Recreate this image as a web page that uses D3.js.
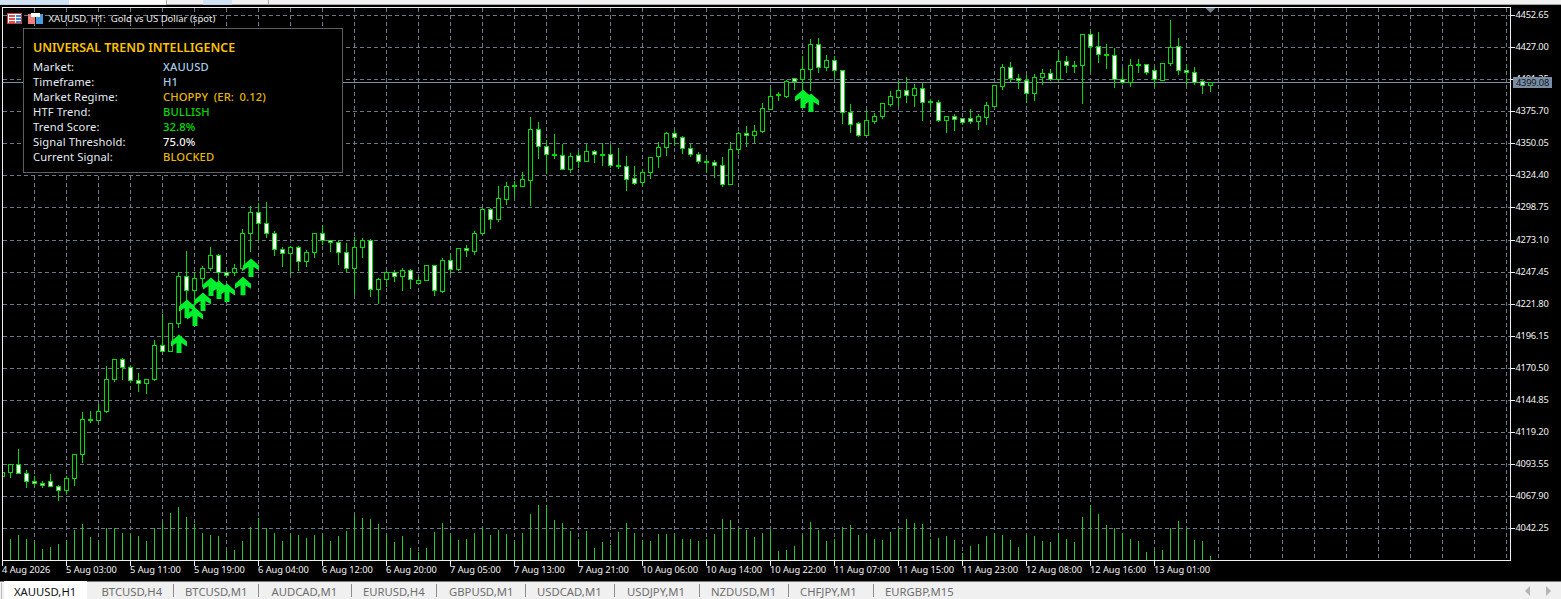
<!DOCTYPE html>
<html><head><meta charset="utf-8">
<script src="https://cdn.jsdelivr.net/npm/d3@7/dist/d3.min.js"></script>
<style>
html,body{margin:0;padding:0;background:#000;overflow:hidden}
svg{display:block}
text{font-family:"Noto Sans",sans-serif}
</style></head><body>
<svg id="c" width="1561" height="599"></svg>
<script>
const opens=[4083.6,4086.8,4093.5,4086.0,4079.9,4078.3,4079.9,4075.9,4072.4,4082.3,4101.2,4129.2,4128.5,4135.7,4161.4,4177.7,4171.2,4160.8,4158.2,4161.4,4188.9,4183.8,
4206.0,4243.9,4232.4,4242.3,4250.0,4260.7,4246.8,4246.8,4250.0,4278.1,4295.2,4286.4,4278.4,4265.5,4262.1,4267.1,4255.7,4262.9,4278.4,4272.8,4271.1,4263.1,4250.0,4266.9,4272.8,4233.2,4241.2,4247.1,4243.6,4248.7,4238.0,4240.4,4252.7,4232.1,4256.7,4249.7,4266.3,4264.2,4278.1,
4297.4,4289.6,4305.9,4315.8,4316.3,4321.1,4361.5,4347.9,4341.2,4340.6,4329.2,4340.6,4335.6,4343.9,4341.2,4341.2,4332.4,4331.8,4322.2,4319.5,4326.8,4339.6,4346.8,4358.3,4355.1,4346.3,4341.4,4335.6,4335.0,4332.6,4317.9,4345.2,4358.3,4356.4,4359.6,
4377.9,4388.8,4388.1,4402.2,4401.7,4409.2,4429.5,4410.8,4416.7,4408.6,4375.0,4366.2,4357.1,4368.3,4372.3,4381.9,4387.5,4392.6,4389.1,4394.2,4383.8,4383.0,4369.1,4371.8,4370.2,4370.2,4368.3,4371.5,4380.3,4396.3,4411.0,4402.2,4400.6,4390.7,4402.8,4406.2,4401.2,4415.8,4412.9,4412.4,4437.5,4427.9,4421.2,4420.6,4401.4,4399.0,4413.2,4413.4,4408.6,4401.1,4414.0,4427.9,4408.6,4407.0,4399.8,4397.1];
const highs=[4087.3,4093.5,4106.6,4089.5,4084.9,4080.9,4086.3,4077.7,4084.7,4101.5,4136.0,4137.0,4142.4,4172.9,4178.7,4179.3,4173.1,4167.5,4161.6,4193.2,4214.5,4207.3,
4248.2,4265.0,4247.6,4252.7,4268.2,4262.3,4249.0,4254.3,4282.6,4301.1,4303.5,4304.3,4281.0,4267.7,4268.7,4268.7,4265.5,4279.4,4285.3,4273.6,4273.6,4271.4,4275.7,4275.2,4274.4,4243.1,4249.0,4249.5,4251.3,4250.5,4243.6,4253.7,4252.7,4259.3,4262.3,4266.3,4269.8,4281.0,4299.2,
4299.0,4316.9,4320.1,4320.9,4328.1,4372.2,4367.9,4353.5,4358.5,4350.3,4343.3,4344.4,4350.3,4345.5,4351.1,4349.7,4347.3,4340.6,4332.9,4330.2,4340.1,4351.9,4359.9,4362.3,4356.7,4350.3,4344.1,4339.3,4337.4,4340.1,4352.1,4359.9,4365.0,4365.8,4383.4,
4395.5,4392.1,4401.4,4402.2,4420.4,4434.6,4435.4,4421.7,4420.7,4408.6,4382.5,4368.0,4377.4,4375.5,4382.2,4392.9,4400.9,4404.1,4398.5,4399.0,4386.2,4385.4,4372.3,4374.2,4371.0,4378.4,4374.2,4383.8,4397.7,4414.2,4416.1,4406.2,4405.7,4406.2,4410.5,4410.5,4424.9,4420.6,4416.9,4438.3,4441.0,4439.9,4430.3,4426.8,4411.0,4418.5,4418.2,4414.2,4412.1,4414.2,4449.8,4435.3,4414.2,4412.1,4401.4,4398.7];
const lows=[4083.1,4082.8,4086.0,4074.8,4076.1,4074.8,4075.6,4064.9,4070.0,4076.9,4095.4,4126.9,4128.5,4134.9,4159.8,4161.9,4159.0,4152.3,4150.1,4161.1,4183.8,4183.8,
4203.5,4222.3,4220.9,4235.6,4249.0,4238.3,4243.6,4245.0,4249.0,4264.2,4273.0,4274.9,4260.5,4252.2,4246.3,4249.0,4252.2,4259.1,4269.8,4264.2,4253.8,4248.2,4229.7,4259.1,4228.1,4222.3,4236.1,4239.9,4232.9,4234.5,4238.0,4240.4,4228.9,4231.3,4246.0,4248.9,4260.2,4261.8,4277.8,
4282.4,4288.0,4301.6,4307.2,4316.1,4300.8,4338.5,4326.5,4338.5,4329.2,4327.3,4331.3,4335.6,4335.3,4332.9,4331.3,4330.5,4312.9,4317.7,4316.9,4322.5,4331.3,4340.9,4348.7,4342.5,4340.1,4334.2,4327.3,4323.3,4316.1,4317.9,4342.0,4348.1,4351.3,4359.3,
4377.9,4384.9,4387.5,4393.4,4392.9,4392.9,4407.3,4408.9,4402.2,4366.4,4359.2,4356.0,4356.5,4366.4,4370.4,4380.0,4380.6,4383.3,4380.0,4368.8,4376.0,4368.0,4359.5,4360.8,4365.6,4366.2,4361.6,4365.6,4380.0,4393.7,4400.1,4394.5,4383.3,4384.9,4397.7,4400.9,4400.9,4406.8,4407.3,4382.7,4408.1,4415.3,4410.5,4395.3,4398.2,4396.1,4407.3,4405.9,4396.1,4401.1,4412.4,4405.7,4397.9,4397.7,4390.5,4391.8];
const closes=[4086.8,4093.5,4086.0,4079.6,4078.0,4076.4,4075.6,4072.4,4082.3,4101.5,4129.6,4128.7,4136.0,4161.6,4177.7,4171.0,4160.6,4158.2,4161.6,4188.9,4183.8,4206.5,
4243.9,4232.4,4242.3,4250.3,4260.7,4246.8,4244.4,4250.3,4278.4,4295.2,4286.4,4278.1,4265.3,4262.1,4267.1,4255.7,4263.1,4278.4,4273.0,4270.9,4263.1,4250.0,4267.1,4272.8,4233.2,4241.5,4247.1,4243.6,4248.7,4241.2,4240.6,4252.7,4232.4,4256.7,4249.7,4266.3,4264.4,4278.3,4297.6,
4289.9,4306.2,4315.8,4316.4,4321.4,4361.5,4347.6,4341.2,4340.6,4329.2,4339.8,4335.6,4343.9,4341.2,4340.6,4332.4,4331.8,4321.9,4318.7,4327.0,4339.0,4347.1,4358.3,4354.8,4346.0,4341.2,4335.6,4335.0,4332.4,4317.9,4345.5,4358.3,4356.4,4359.9,4378.3,
4387.8,4389.4,4399.8,4399.6,4409.4,4429.5,4411.0,4416.7,4408.4,4375.0,4365.9,4357.1,4368.6,4372.3,4382.2,4387.8,4392.6,4389.1,4394.2,4383.5,4383.2,4369.1,4371.8,4369.9,4367.5,4368.3,4371.8,4380.6,4396.6,4411.0,4402.0,4400.4,4390.7,4403.0,4406.2,4401.4,4415.9,4412.6,4412.3,4437.5,4427.6,4421.4,4420.6,4401.4,4399.0,4412.6,4412.6,4406.8,4401.9,4414.2,4427.1,4408.4,4406.8,4399.5,4397.1,4399.08];
const volumes=[600,630,750,630,540,330,390,480,600,900,1080,690,570,950,960,810,780,720,570,960,1110,1410,1590,1290,1080,810,750,720,270,300,570,990,1260,960,810,570,810,750,660,750,750,570,720,870,1350,1260,1230,1080,750,540,720,360,240,360,840,1110,750,600,630,810,990,750,900,780,540,810,1380,1650,1650,1200,1110,870,630,870,360,540,450,840,1110,810,600,570,780,780,750,630,630,570,630,780,1230,1200,960,900,690,810,900,270,300,420,750,1140,900,570,630,990,1050,750,750,630,600,840,960,1230,1110,1080,630,660,720,600,210,420,480,720,810,750,600,390,750,720,570,540,810,630,540,1290,1650,1380,1050,960,810,630,570,240,270,300,960,1170,930,600,570,120];
const priceTicks=[4452.65,4427.00,4401.35,4375.70,4350.05,4324.40,4298.75,4273.10,4247.45,4221.80,4196.15,4170.50,4144.85,4119.20,4093.55,4067.90,4042.25];
const timeTickIdx=[0,8,16,24,32,40,48,56,64,72,80,88,96,104,112,120,128,136,144];
const timeTicks=["4 Aug 2026","5 Aug 03:00","5 Aug 11:00","5 Aug 19:00","6 Aug 04:00","6 Aug 12:00","6 Aug 20:00","7 Aug 05:00","7 Aug 13:00","7 Aug 21:00","10 Aug 06:00","10 Aug 14:00","10 Aug 22:00","11 Aug 07:00","11 Aug 15:00","11 Aug 23:00","12 Aug 08:00","12 Aug 16:00","13 Aug 01:00"];
const arrowIdx=[22,23,24,25,26,27,28,30,31,100,101];
const arrowPrice=[4197.6,4225.6,4219.2,4231.2,4243.2,4240.8,4238.4,4243.7,4258.4,4393.6,4390.4];
const currentPrice=4399.08;
const panelTitle="UNIVERSAL TREND INTELLIGENCE";
const panelLabels=["Market:","Timeframe:","Market Regime:","HTF Trend:","Trend Score:","Signal Threshold:","Current Signal:"];
const panelValues=["XAUUSD","H1","CHOPPY (ER: 0.12)","BULLISH","32.8%","75.0%","BLOCKED"];
const panelColors=["#A8CCE8","#A8CCE8","#E8B800","#00D800","#00E000","#F4F4F4","#E8B800"];
const tabNames=["XAUUSD,H1","BTCUSD,H4","BTCUSD,M1","AUDCAD,M1","EURUSD,H4","GBPUSD,M1","USDCAD,M1","USDJPY,M1","NZDUSD,M1","CHFJPY,M1","EURGBP,M15"];
const tabTextX=[14,101.5,185,271.5,363,449,537,627,711,800,885];
const tabSeps=[173.5,258.5,351.5,436.5,525.5,614.5,699.5,788.5,873.5];

const svg=d3.select("#c");
const L=2.5,R=1510.5,T=7.5,B=560.5;
const GRID="#68798A",UP="#00DC00",AXIS="#F0F0F0";
const AF=9.3;
const x=d3.scaleLinear().domain([0,151]).range([2.5,1210.5]);
const y=d3.scaleLinear().domain([4452.65,4042.25]).range([15.6,528.6]);
const yv=d3.scaleLinear().domain([0,1800]).range([560,500]);
const row=v=>Math.floor(y(v))+.5;

svg.append("rect").attr("width",1561).attr("height",599).attr("fill","#000");
// top strip
const strip=svg.append("g");
strip.append("rect").attr("width",1561).attr("height",4.7).attr("fill","#F0F0F0");
strip.append("rect").attr("width",69).attr("height",4.7).attr("fill","#CFE3F5");
strip.append("rect").attr("x",69).attr("width",97).attr("height",4.7).attr("fill","#FAFAFA");
strip.append("rect").attr("x",203).attr("width",29).attr("height",4.7).attr("fill","#CFE3F5");
[166,268].forEach(v=>strip.append("rect").attr("x",v).attr("width",1).attr("height",4.7).attr("fill","#A8A8A8"));

// clip
svg.append("defs").append("clipPath").attr("id","plot").append("rect").attr("x",L).attr("y",T).attr("width",R-L).attr("height",B-T);

// grid
const grid=svg.append("g").attr("stroke",GRID).attr("stroke-width",1).attr("stroke-dasharray","4,3").attr("shape-rendering","crispEdges");
grid.selectAll(".h").data(priceTicks).join("line").attr("x1",L).attr("x2",R).attr("y1",row).attr("y2",row);
grid.selectAll(".v").data(d3.range(4,189,4)).join("line").attr("x1",d=>x(d)).attr("x2",d=>x(d)).attr("y1",T).attr("y2",B);

const plot=svg.append("g").attr("clip-path","url(#plot)");
// current price line
plot.append("line").attr("x1",L).attr("x2",R).attr("y1",row(currentPrice)).attr("y2",row(currentPrice)).attr("stroke","#7A8FA6").attr("shape-rendering","crispEdges");

// volume
plot.append("g").attr("stroke","#1FCB1F").attr("shape-rendering","crispEdges").selectAll("line").data(volumes).join("line")
 .attr("x1",(d,i)=>x(i)).attr("x2",(d,i)=>x(i)).attr("y1",560).attr("y2",d=>yv(d));

// candles
const idx=d3.range(opens.length);
const cg=plot.append("g").attr("shape-rendering","crispEdges");
cg.selectAll(".w").data(idx).join("line").attr("stroke",UP)
 .attr("x1",i=>x(i)).attr("x2",i=>x(i)).attr("y1",i=>row(highs[i])).attr("y2",i=>row(lows[i]));
cg.selectAll(".b").data(idx).join("rect")
 .attr("x",i=>x(i)-2).attr("width",4)
 .attr("y",i=>row(Math.max(opens[i],closes[i])))
 .attr("height",i=>Math.max(1,row(Math.min(opens[i],closes[i]))-row(Math.max(opens[i],closes[i]))))
 .attr("fill",i=>closes[i]>=opens[i]?"#000":"#fff").attr("stroke",UP);

// arrows
plot.append("g").selectAll("path").data(arrowIdx).join("path")
 .attr("transform",(d,i)=>`translate(${x(d)+.5},${y(arrowPrice[i])})`)
 .attr("d","M0,0L8,7V12L2.5,8.5V18.5H-2.5V8.5L-8,12V7Z").attr("fill","#00F02E");

// frame
svg.append("rect").attr("x",L).attr("y",T).attr("width",R-L).attr("height",B-T).attr("fill","none").attr("stroke",AXIS).attr("shape-rendering","crispEdges");
// marker triangle
svg.append("path").attr("d",`M${x(151)-5},8L${x(151)+5},8L${x(151)},13Z`).attr("fill","#708090");

// axes
const ay=svg.append("g").attr("transform",`translate(${R},0)`).call(d3.axisRight(y).tickValues(priceTicks).tickFormat(d3.format(".2f")).tickSize(4).tickPadding(1).offset(0));
ay.select(".domain").remove();
ay.selectAll(".tick").attr("transform",d=>`translate(0,${row(d)})`);
ay.selectAll("line").attr("stroke",AXIS).attr("shape-rendering","crispEdges");
ay.selectAll("text").attr("fill","#F4F4F4").attr("font-size",AF).attr("letter-spacing",-0.2).style("font-family",'"Noto Sans",sans-serif');
const ax=svg.append("g").attr("transform",`translate(0,${B})`).call(d3.axisBottom(x).tickValues(timeTickIdx).tickFormat((d,i)=>timeTicks[i]).tickSize(5).tickPadding(1).offset(0));
ax.select(".domain").remove();
ax.selectAll("line").attr("stroke",AXIS).attr("shape-rendering","crispEdges");
ax.selectAll("text").attr("fill","#F4F4F4").attr("font-size",AF).attr("letter-spacing",-0.05).attr("text-anchor","start").attr("dx",-.5).style("font-family",'"Noto Sans",sans-serif');

// current price label
svg.append("rect").attr("x",1513).attr("y",77).attr("width",39).attr("height",11).attr("fill","#7A8FA6");
svg.append("text").attr("x",1516).attr("y",85.8).attr("fill","#10141C").attr("font-size",AF).attr("letter-spacing",-0.2).text(d3.format(".2f")(currentPrice));

// chart title and icons
svg.append("text").attr("x",48.5).attr("y",21.5).attr("fill","#EDEDED").attr("font-size",9.5).attr("xml:space","preserve").text("XAUUSD, H1:  Gold vs US Dollar (spot)");
const ic=svg.append("g").attr("shape-rendering","crispEdges");
ic.append("rect").attr("x",7.5).attr("y",13.5).attr("width",14).attr("height",10).attr("fill","#fff").attr("stroke","#D23A3A");
[[9,15],[9,18],[9,21]].forEach(p=>ic.append("rect").attr("x",p[0]).attr("y",p[1]).attr("width",6).attr("height",2).attr("fill","#E05050"));
[[16,15],[16,18],[16,21]].forEach(p=>ic.append("rect").attr("x",p[0]).attr("y",p[1]).attr("width",5).attr("height",2).attr("fill","#3B8BD8"));
ic.append("rect").attr("x",28).attr("y",14).attr("width",7).attr("height",10).attr("fill","#F08080");
ic.append("rect").attr("x",36).attr("y",14).attr("width",7).attr("height",10).attr("fill","#4A9BE0");
ic.append("rect").attr("x",31).attr("y",13).attr("width",9).attr("height",4).attr("fill","#fff");

// panel
const panel=svg.append("g");
panel.append("rect").attr("x",23.5).attr("y",28.5).attr("width",319).attr("height",143.5).attr("fill","#000").attr("stroke","#5E5E5E").attr("shape-rendering","crispEdges");
panel.append("text").attr("x",33).attr("y",51.5).attr("fill","#FFC400").attr("font-size",12.4).attr("font-weight",600).attr("letter-spacing",-0.02).text(panelTitle);
panel.selectAll(".l").data(panelLabels).join("text").attr("x",33).attr("y",(d,i)=>70.5+15*i).attr("fill","#E4ECF4").attr("font-size",11.2).attr("letter-spacing",0.12).text(d=>d);
panel.selectAll(".v").data(panelValues).join("text").attr("x",163).attr("y",(d,i)=>70.5+15*i).attr("fill",(d,i)=>panelColors[i]).attr("font-size",11.2).attr("font-weight",500).attr("letter-spacing",0.12).attr("word-spacing",2.5).text(d=>d);

// tab bar
const tb=svg.append("g");
tb.append("rect").attr("y",581.5).attr("width",1561).attr("height",18).attr("fill","#F0F0F0");
tb.append("rect").attr("x",4).attr("y",581).attr("width",83).attr("height",18).attr("fill","#FFF");
tb.append("path").attr("d","M1.5,583V599").attr("stroke","#BDBDBD");
tb.selectAll(".s").data(tabSeps).join("line").attr("x1",d=>d).attr("x2",d=>d).attr("y1",584).attr("y2",597).attr("stroke","#8C8C8C").attr("shape-rendering","crispEdges");
tb.selectAll(".t").data(tabNames).join("text").attr("x",(d,i)=>tabTextX[i]).attr("y",595.5).attr("font-size",11.3).attr("fill",(d,i)=>i?"#6E6E6E":"#111").text(d=>d);
tb.append("path").attr("d","M1530,586L1525,591L1530,596Z").attr("fill","#B4B4B4");
tb.append("path").attr("d","M1546,586L1551,591L1546,596Z").attr("fill","#B4B4B4");
</script></body></html>
